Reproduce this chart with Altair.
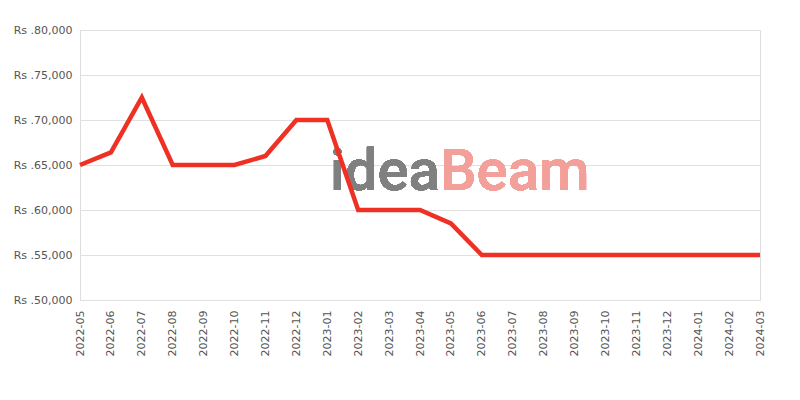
import altair as alt
import pandas as pd

months = ["2022-05", "2022-06", "2022-07", "2022-08", "2022-09", "2022-10", "2022-11",
          "2022-12", "2023-01", "2023-02", "2023-03", "2023-04", "2023-05", "2023-06",
          "2023-07", "2023-08", "2023-09", "2023-10", "2023-11", "2023-12", "2024-01",
          "2024-02", "2024-03"]
prices = [64999, 66400, 72499, 64999, 64999, 64999, 66000,
          69999, 69999, 59999, 59999, 59999, 58499, 54999,
          54999, 54999, 54999, 54999, 54999, 54999, 54999,
          54999, 54999]

df = pd.DataFrame({"month": months, "price": prices})

base = alt.Chart(df)

line = base.mark_line(color="#ee3124", strokeWidth=4.5, strokeJoin="miter").encode(
    x=alt.X("month:O", sort=months,
            scale=alt.Scale(type="point", padding=0),
            axis=alt.Axis(title=None, labelAngle=270, labelAlign="right", labelBaseline="middle",
                          grid=False, ticks=False, domain=False, labelPadding=10,
                          labelFont="DejaVu Sans", labelFontSize=11, labelColor="#555")),
    y=alt.Y("price:Q", scale=alt.Scale(domain=[50000, 80000], nice=False, zero=False),
            axis=alt.Axis(title=None, values=[50000, 55000, 60000, 65000, 70000, 75000, 80000],
                          labelExpr="'Rs .' + format(datum.value, ',')",
                          grid=True, gridColor="#e0e0e0", ticks=False, domain=False,
                          labelPadding=8, labelFont="DejaVu Sans", labelFontSize=11,
                          labelColor="#555")),
)

wm1 = base.mark_text(text="idea", font="Roboto", fontSize=58, fontWeight=500,
                     color="#808080", align="left", baseline="alphabetic").encode(
    x=alt.value(250), y=alt.value(160))
wm2 = base.mark_text(text="Beam", font="Roboto", fontSize=58, fontWeight=500,
                     color="#f4a09a", align="left", baseline="alphabetic").encode(
    x=alt.value(360), y=alt.value(160))

chart = alt.layer(wm1, wm2, line).properties(
    width=680, height=270,
    autosize=alt.AutoSizeParams(type="none"),
    padding={"left": 72, "top": 22, "right": 20, "bottom": 70},
).configure_view(stroke="#dddddd")

chart.save("out.html", embed_options={"renderer": "svg", "actions": False})
